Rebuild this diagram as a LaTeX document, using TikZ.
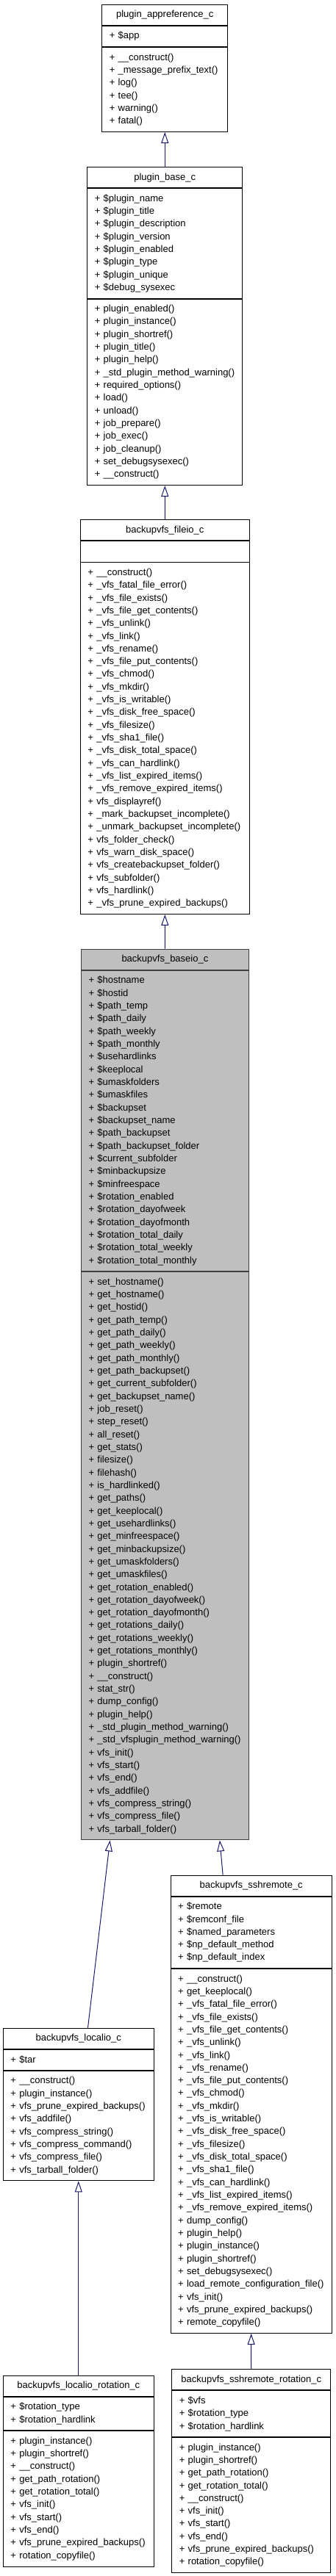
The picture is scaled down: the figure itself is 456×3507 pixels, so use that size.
\documentclass[tikz,border=0pt]{standalone}
\usepackage{fontspec}
\setmainfont{Liberation Sans}
\usetikzlibrary{positioning,arrows.meta}

\definecolor{edgeblue}{RGB}{25,25,112}
\definecolor{hlfill}{RGB}{191,191,191}
\definecolor{hldraw}{RGB}{64,64,64}

\tikzset{
  cls/.style={draw=black, line width=0.9pt, fill=white, inner xsep=10pt, inner ysep=0pt,
    font=\fontsize{13}{17.32}\selectfont, anchor=north west},
  ttl/.style={cls, minimum height=28pt, align=center},
  sec/.style={cls, align=left},
  nlines/.style={minimum height={#1*17.32pt+11pt}},
  hl/.style={fill=hlfill, draw=hldraw, line width=1.1pt},
  inherit/.style={draw=edgeblue, line width=1pt, -{Triangle[open, length=15pt, width=10pt, fill=white]}}
}

\begin{document}
\begin{tikzpicture}[x=1pt, y=1pt]
  \useasboundingbox (0,0) rectangle (456,-3507);

  % plugin_appreference_c
  \node[ttl, minimum width=171pt] (appref) at (138.3,-6) {plugin\_appreference\_c};
  \node[sec, text width=151pt, nlines=1, below=0pt of appref] (appref-a) {+ \$app};
  \node[sec, text width=151pt, nlines=6, below=0pt of appref-a] (appref-m) {+ \_\_construct()\\+ \_message\_prefix\_text()\\+ log()\\+ tee()\\+ warning()\\+ fatal()};

  % plugin_base_c
  \node[ttl, minimum width=211pt] (base) at (118.3,-227.3) {plugin\_base\_c};
  \node[sec, text width=191pt, nlines=8, below=0pt of base] (base-a) {+ \$plugin\_name\\+ \$plugin\_title\\+ \$plugin\_description\\+ \$plugin\_version\\+ \$plugin\_enabled\\+ \$plugin\_type\\+ \$plugin\_unique\\+ \$debug\_sysexec};
  \node[sec, text width=191pt, nlines=14, below=0pt of base-a] (base-m) {+ plugin\_enabled()\\+ plugin\_instance()\\+ plugin\_shortref()\\+ plugin\_title()\\+ plugin\_help()\\+ \_std\_plugin\_method\_warning()\\+ required\_options()\\+ load()\\+ unload()\\+ job\_prepare()\\+ job\_exec()\\+ job\_cleanup()\\+ set\_debugsysexec()\\+ \_\_construct()};

  % backupvfs_fileio_c
  \node[ttl, minimum width=229.7pt] (fileio) at (109,-707.3) {backupvfs\_fileio\_c};
  \node[sec, text width=209.7pt, nlines=1, below=0pt of fileio] (fileio-a) {};
  \node[sec, text width=209.7pt, nlines=27, below=0pt of fileio-a] (fileio-m) {+ \_\_construct()\\+ \_vfs\_fatal\_file\_error()\\+ \_vfs\_file\_exists()\\+ \_vfs\_file\_get\_contents()\\+ \_vfs\_unlink()\\+ \_vfs\_link()\\+ \_vfs\_rename()\\+ \_vfs\_file\_put\_contents()\\+ \_vfs\_chmod()\\+ \_vfs\_mkdir()\\+ \_vfs\_is\_writable()\\+ \_vfs\_disk\_free\_space()\\+ \_vfs\_filesize()\\+ \_vfs\_sha1\_file()\\+ \_vfs\_disk\_total\_space()\\+ \_vfs\_can\_hardlink()\\+ \_vfs\_list\_expired\_items()\\+ \_vfs\_remove\_expired\_items()\\+ vfs\_displayref()\\+ \_mark\_backupset\_incomplete()\\+ \_unmark\_backupset\_incomplete()\\+ vfs\_folder\_check()\\+ vfs\_warn\_disk\_space()\\+ vfs\_createbackupset\_folder()\\+ vfs\_subfolder()\\+ vfs\_hardlink()\\+ \_vfs\_prune\_expired\_backups()};

  % backupvfs_baseio_c
  \node[ttl, hl, minimum width=227.7pt] (baseio) at (110,-1291.7) {backupvfs\_baseio\_c};
  \node[sec, hl, text width=207.7pt, nlines=23, below=0pt of baseio] (baseio-a) {+ \$hostname\\+ \$hostid\\+ \$path\_temp\\+ \$path\_daily\\+ \$path\_weekly\\+ \$path\_monthly\\+ \$usehardlinks\\+ \$keeplocal\\+ \$umaskfolders\\+ \$umaskfiles\\+ \$backupset\\+ \$backupset\_name\\+ \$path\_backupset\\+ \$path\_backupset\_folder\\+ \$current\_subfolder\\+ \$minbackupsize\\+ \$minfreespace\\+ \$rotation\_enabled\\+ \$rotation\_dayofweek\\+ \$rotation\_dayofmonth\\+ \$rotation\_total\_daily\\+ \$rotation\_total\_weekly\\+ \$rotation\_total\_monthly};
  \node[sec, hl, text width=207.7pt, nlines=44, below=0pt of baseio-a] (baseio-m) {+ set\_hostname()\\+ get\_hostname()\\+ get\_hostid()\\+ get\_path\_temp()\\+ get\_path\_daily()\\+ get\_path\_weekly()\\+ get\_path\_monthly()\\+ get\_path\_backupset()\\+ get\_current\_subfolder()\\+ get\_backupset\_name()\\+ job\_reset()\\+ step\_reset()\\+ all\_reset()\\+ get\_stats()\\+ filesize()\\+ filehash()\\+ is\_hardlinked()\\+ get\_paths()\\+ get\_keeplocal()\\+ get\_usehardlinks()\\+ get\_minfreespace()\\+ get\_minbackupsize()\\+ get\_umaskfolders()\\+ get\_umaskfiles()\\+ get\_rotation\_enabled()\\+ get\_rotation\_dayofweek()\\+ get\_rotation\_dayofmonth()\\+ get\_rotations\_daily()\\+ get\_rotations\_weekly()\\+ get\_rotations\_monthly()\\+ plugin\_shortref()\\+ \_\_construct()\\+ stat\_str()\\+ dump\_config()\\+ plugin\_help()\\+ \_std\_plugin\_method\_warning()\\+ \_std\_vfsplugin\_method\_warning()\\+ vfs\_init()\\+ vfs\_start()\\+ vfs\_end()\\+ vfs\_addfile()\\+ vfs\_compress\_string()\\+ vfs\_compress\_file()\\+ vfs\_tarball\_folder()};

  % backupvfs_localio_c
  \node[ttl, minimum width=204.7pt] (localio) at (4,-2760.7) {backupvfs\_localio\_c};
  \node[sec, text width=184.7pt, nlines=1, below=0pt of localio] (localio-a) {+ \$tar};
  \node[sec, text width=184.7pt, nlines=8, below=0pt of localio-a] (localio-m) {+ \_\_construct()\\+ plugin\_instance()\\+ vfs\_prune\_expired\_backups()\\+ vfs\_addfile()\\+ vfs\_compress\_string()\\+ vfs\_compress\_command()\\+ vfs\_compress\_file()\\+ vfs\_tarball\_folder()};

  % backupvfs_sshremote_c
  \node[ttl, minimum width=219pt] (sshremote) at (231.7,-2552.7) {backupvfs\_sshremote\_c};
  \node[sec, text width=199pt, nlines=5, below=0pt of sshremote] (sshremote-a) {+ \$remote\\+ \$remconf\_file\\+ \$named\_parameters\\+ \$np\_default\_method\\+ \$np\_default\_index};
  \node[sec, text width=199pt, nlines=28, below=0pt of sshremote-a] (sshremote-m) {+ \_\_construct()\\+ get\_keeplocal()\\+ \_vfs\_fatal\_file\_error()\\+ \_vfs\_file\_exists()\\+ \_vfs\_file\_get\_contents()\\+ \_vfs\_unlink()\\+ \_vfs\_link()\\+ \_vfs\_rename()\\+ \_vfs\_file\_put\_contents()\\+ \_vfs\_chmod()\\+ \_vfs\_mkdir()\\+ \_vfs\_is\_writable()\\+ \_vfs\_disk\_free\_space()\\+ \_vfs\_filesize()\\+ \_vfs\_disk\_total\_space()\\+ \_vfs\_sha1\_file()\\+ \_vfs\_can\_hardlink()\\+ \_vfs\_list\_expired\_items()\\+ \_vfs\_remove\_expired\_items()\\+ dump\_config()\\+ plugin\_help()\\+ plugin\_instance()\\+ plugin\_shortref()\\+ set\_debugsysexec()\\+ load\_remote\_configuration\_file()\\+ vfs\_init()\\+ vfs\_prune\_expired\_backups()\\+ remote\_copyfile()};

  % backupvfs_localio_rotation_c
  \node[ttl, minimum width=204.7pt] (localrot) at (4,-3233.9) {backupvfs\_localio\_rotation\_c};
  \node[sec, text width=184.7pt, nlines=2, below=0pt of localrot] (localrot-a) {+ \$rotation\_type\\+ \$rotation\_hardlink};
  \node[sec, text width=184.7pt, nlines=10, below=0pt of localrot-a] (localrot-m) {+ plugin\_instance()\\+ plugin\_shortref()\\+ \_\_construct()\\+ get\_path\_rotation()\\+ get\_rotation\_total()\\+ vfs\_init()\\+ vfs\_start()\\+ vfs\_end()\\+ vfs\_prune\_expired\_backups()\\+ rotation\_copyfile()};

  % backupvfs_sshremote_rotation_c
  \node[ttl, minimum width=216pt] (sshrot) at (233.3,-3225.3) {backupvfs\_sshremote\_rotation\_c};
  \node[sec, text width=196pt, nlines=3, below=0pt of sshrot] (sshrot-a) {+ \$vfs\\+ \$rotation\_type\\+ \$rotation\_hardlink};
  \node[sec, text width=196pt, nlines=10, below=0pt of sshrot-a] (sshrot-m) {+ plugin\_instance()\\+ plugin\_shortref()\\+ get\_path\_rotation()\\+ get\_rotation\_total()\\+ \_\_construct()\\+ vfs\_init()\\+ vfs\_start()\\+ vfs\_end()\\+ vfs\_prune\_expired\_backups()\\+ rotation\_copyfile()};

  % inheritance
  \draw[inherit] (base.north) -- (appref-m.south);
  \draw[inherit] (fileio.north) -- (base-m.south);
  \draw[inherit] (baseio.north) -- (fileio-m.south);
  \draw[inherit] ([xshift=12.7pt]localio.north) -- ([xshift=-74.8pt]baseio-m.south);
  \draw[inherit] ([xshift=-38.5pt]sshremote.north) -- ([xshift=74.5pt]baseio-m.south);
  \draw[inherit] (localrot.north) -- (localio-m.south);
  \draw[inherit] (sshrot.north) -- (sshremote-m.south);
\end{tikzpicture}
\end{document}
